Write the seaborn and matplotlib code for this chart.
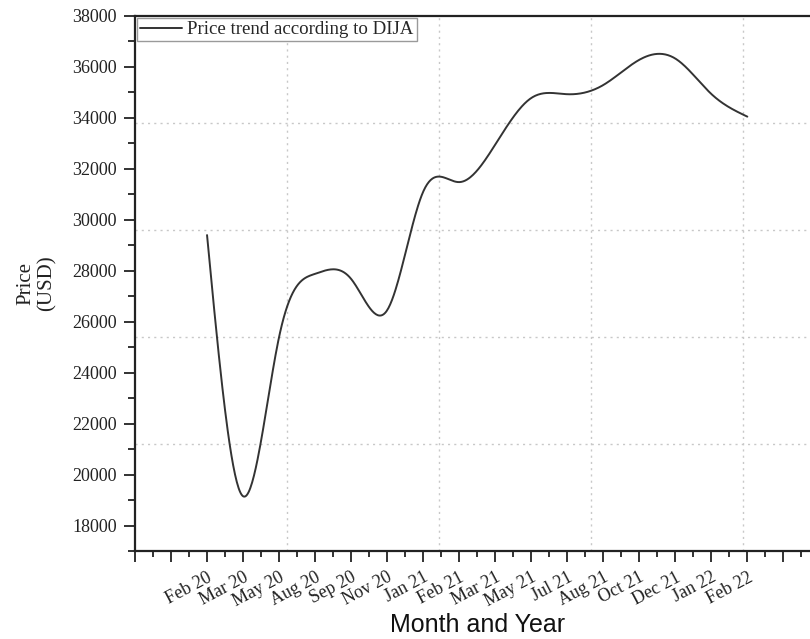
import numpy as np
import pandas as pd
import matplotlib
matplotlib.use("Agg")
import matplotlib.pyplot as plt
import seaborn as sns
from matplotlib.ticker import MultipleLocator, FixedLocator

# ---- data ----
months = ["Feb 20", "Mar 20", "May 20", "Aug 20", "Sep 20", "Nov 20", "Jan 21", "Feb 21",
          "Mar 21", "May 21", "Jul 21", "Aug 21", "Oct 21", "Dec 21", "Jan 22", "Feb 22"]
prices = [29400, 19150, 25400, 27880, 27680, 26450, 31100, 31480,
          32950, 34780, 34930, 35290, 36280, 36330, 34940, 34050]
series_label = "Price trend according to DIJA"

positions = np.arange(1, len(months) + 1, dtype=float)


def natural_spline(x, y, xs):
    x = np.asarray(x, float); y = np.asarray(y, float)
    n = len(x); h = np.diff(x)
    A = np.zeros((n, n)); b = np.zeros(n)
    A[0, 0] = 1; A[-1, -1] = 1
    for i in range(1, n - 1):
        A[i, i - 1] = h[i - 1]; A[i, i] = 2 * (h[i - 1] + h[i]); A[i, i + 1] = h[i]
        b[i] = 3 * ((y[i + 1] - y[i]) / h[i] - (y[i] - y[i - 1]) / h[i - 1])
    c = np.linalg.solve(A, b)
    out = np.empty_like(xs)
    for k, xv in enumerate(xs):
        i = min(max(np.searchsorted(x, xv) - 1, 0), n - 2)
        t = xv - x[i]
        bi = (y[i + 1] - y[i]) / h[i] - h[i] * (2 * c[i] + c[i + 1]) / 3
        di = (c[i + 1] - c[i]) / (3 * h[i])
        out[k] = y[i] + bi * t + c[i] * t ** 2 + di * t ** 3
    return out


xs = np.linspace(positions[0], positions[-1], 600)
ys = natural_spline(positions, prices, xs)
df = pd.DataFrame({"pos": xs, "price": ys})

# ---- style ----
sns.set_style("ticks")
plt.rcParams["font.family"] = ["Liberation Serif", "DejaVu Serif"]

fig = plt.figure(figsize=(8.1, 6.39), dpi=100)
ax = fig.add_axes([135 / 810, 1 - 551 / 639, 760 / 810, 535 / 639])

sns.lineplot(data=df, x="pos", y="price", ax=ax, color="#333333", linewidth=1.4,
             label=series_label, sort=False, estimator=None)

xmin, xmax = -1.0, 20.1
ymin, ymax = 17000, 38000
ax.set_xlim(xmin, xmax)
ax.set_ylim(ymin, ymax)

# grid lines at fifths of the axes (as in the reference)
for k in range(1, 5):
    ax.axvline(xmin + k * (xmax - xmin) / 5, color="#c8c8c8", lw=1.0,
               linestyle=(0, (1.5, 3)), zorder=0)
    ax.axhline(ymin + k * (ymax - ymin) / 5, color="#c8c8c8", lw=1.0,
               linestyle=(0, (1.5, 3)), zorder=0)

# y ticks
ax.yaxis.set_minor_locator(MultipleLocator(1000))
ax.set_yticks(np.arange(18000, 38001, 2000))
ax.tick_params(axis="y", which="major", length=8, width=1.3, labelsize=13, pad=5,
               direction="out", colors="#222222")
ax.tick_params(axis="y", which="minor", length=5, width=1.3, direction="out", colors="#222222")

# x ticks
major_x = np.arange(-1, 20)
ax.xaxis.set_major_locator(FixedLocator(major_x))
ax.xaxis.set_minor_locator(FixedLocator(major_x[:-1] + 0.5))
lab_map = dict(zip(positions.astype(int), months))
ax.set_xticklabels([lab_map.get(int(v), "") for v in major_x])
ax.tick_params(axis="x", which="major", length=8, width=1.3, labelsize=13, pad=5,
               direction="out", colors="#222222")
ax.tick_params(axis="x", which="minor", length=4, width=1.3, direction="out", colors="#222222")
for t in ax.get_xticklabels():
    t.set_rotation(28)
    t.set_ha("right")
    t.set_va("top")
    t.set_rotation_mode("anchor")

for s in ["left", "bottom", "top"]:
    ax.spines[s].set_linewidth(1.6)
    ax.spines[s].set_color("#222222")
ax.spines["right"].set_visible(False)

ax.set_ylabel("Price\n(USD)", fontsize=15, color="#222222", linespacing=1.15)
ax.yaxis.set_label_coords((57 - 135) / 760, 0.5)
ax.set_xlabel("Month and Year", fontsize=18, color="#111111",
              family=["Liberation Sans", "DejaVu Sans"])
ax.xaxis.set_label_coords((477.5 - 135) / 760, (551 - 613) / 535)

leg = ax.legend(loc="upper left", bbox_to_anchor=(0.0, 1.0), borderaxespad=0.12,
                frameon=True, fancybox=False, framealpha=1, edgecolor="#9a9a9a",
                fontsize=13.6, handlelength=2.2, handletextpad=0.3, borderpad=0.15)
leg.get_frame().set_linewidth(1.0)

fig.savefig("out.png", dpi=100)
